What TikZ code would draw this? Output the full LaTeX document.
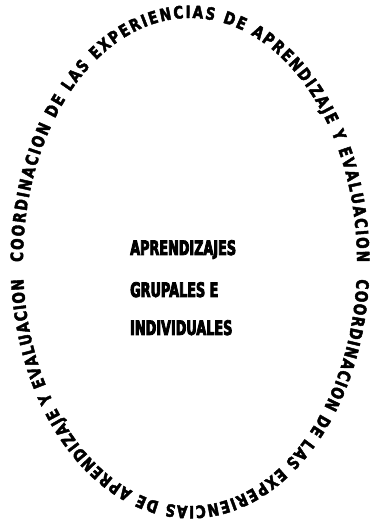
\documentclass[tikz,border=0pt]{standalone}
\usepackage{fontspec}
\usetikzlibrary{decorations.text}
\newfontfamily\arcfam[FakeStretch=0.8,FakeBold=2.5]{DejaVu Sans}
\newfontfamily\midfam[FakeStretch=0.64,FakeBold=4]{DejaVu Sans}
\newcommand\myarcfont{\arcfam\bfseries\fontsize{17}{17}\selectfont}
\newcommand\mymidfont{\midfam\bfseries\fontsize{20}{20}\selectfont}
\begin{document}
\begin{tikzpicture}[x=1pt,y=1pt,
  arctext/.style={decorate,decoration={text along path,
    text={|\myarcfont|#1}, text align=fit to path}},
  midtext/.style={anchor=base west,inner sep=0pt,font=\mymidfont}]
\useasboundingbox (0,0) rectangle (377,531);
\coordinate (ctr) at (190,269);
\path[arctext={COORDINACION DE LAS EXPERIENCIAS DE APRENDIZAJE Y EVALUACION}]
  ([shift={(180:167pt and 244pt)}]ctr) arc[start angle=180,end angle=0,x radius=167pt,y radius=244pt];
\path[arctext={COORDINACION DE LAS EXPERIENCIAS DE APRENDIZAJE Y EVALUACION}]
  ([shift={(-4:167pt and 244pt)}]ctr) arc[start angle=-4,end angle=-176,x radius=167pt,y radius=244pt];
\node[midtext] (l1) at (130,276) {APRENDIZAJES};
\node[midtext] (l2) at (130,234) {GRUPALES E};
\node[midtext] (l3) at (130,196) {INDIVIDUALES};
\end{tikzpicture}
\end{document}
